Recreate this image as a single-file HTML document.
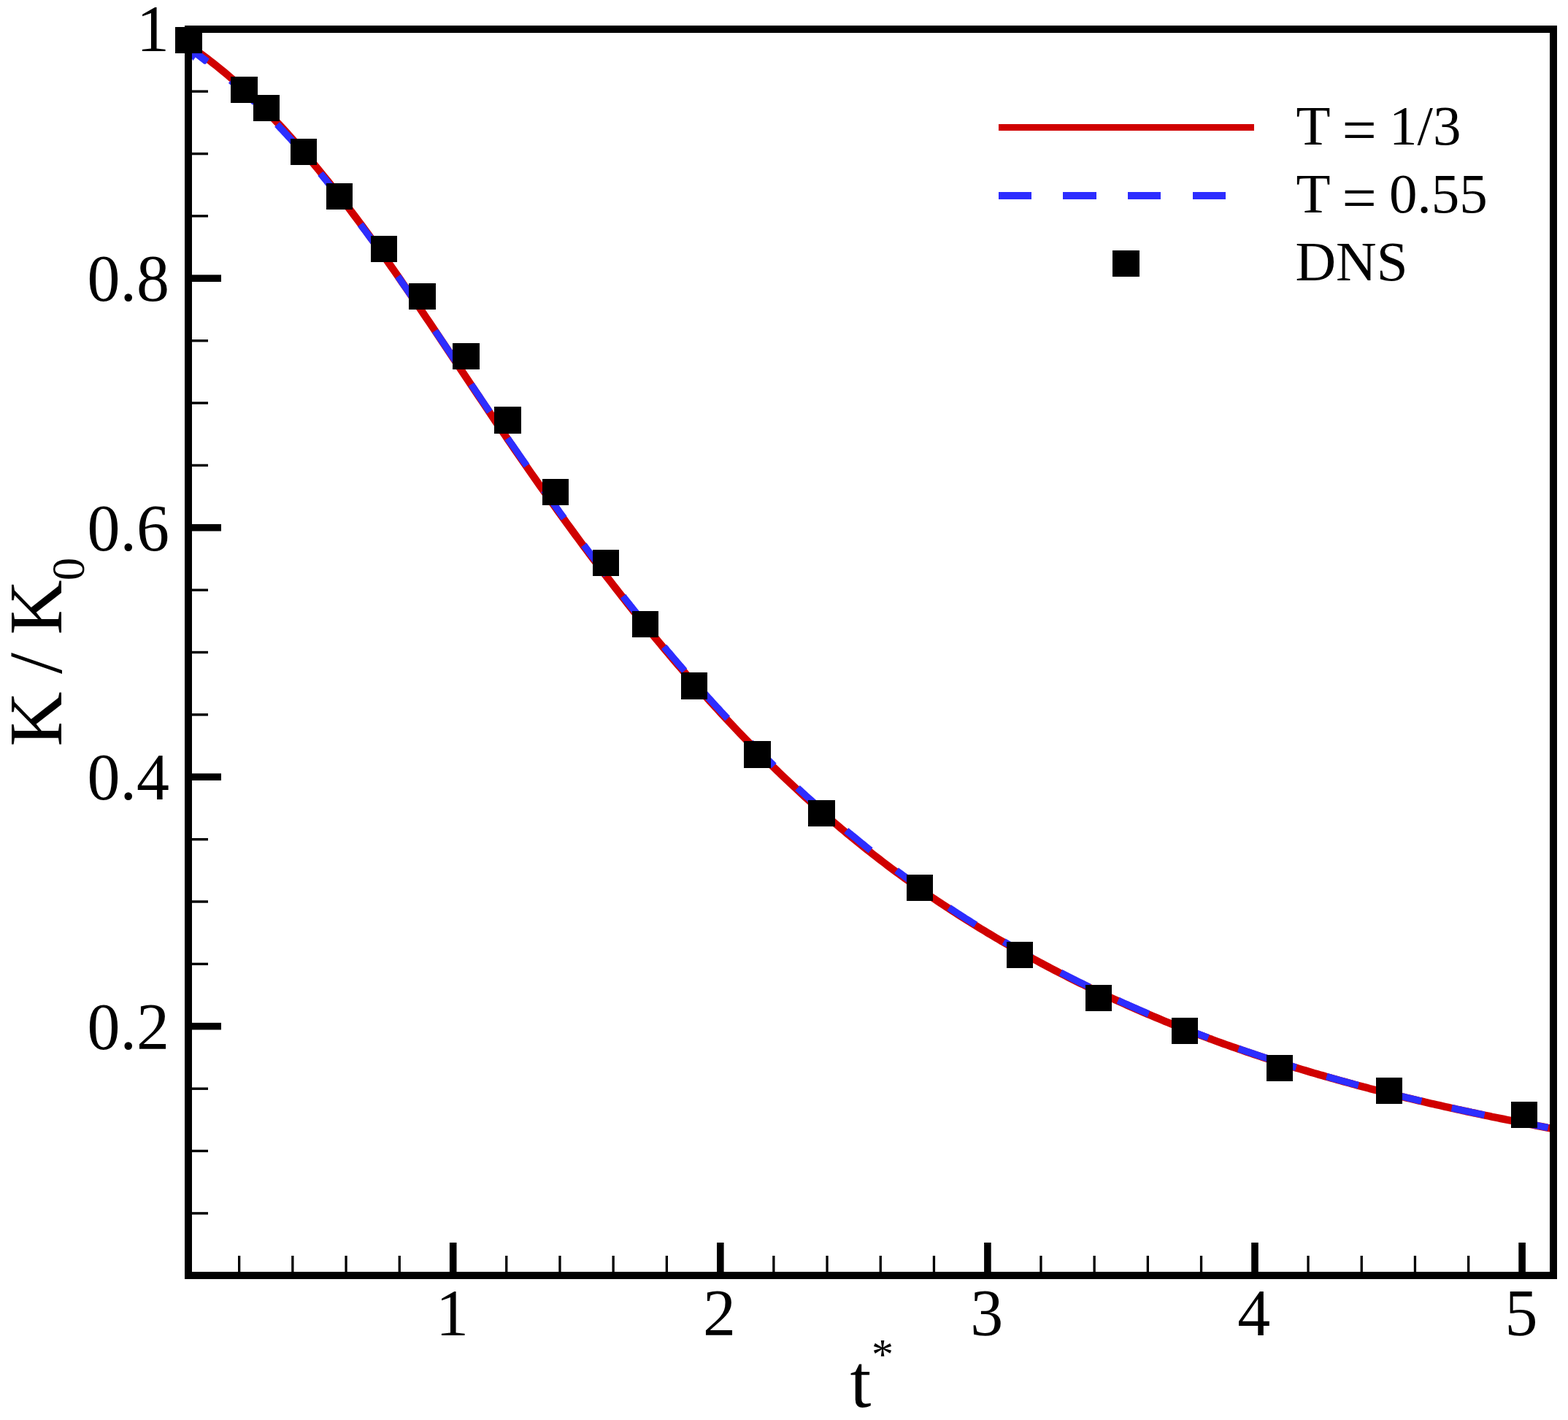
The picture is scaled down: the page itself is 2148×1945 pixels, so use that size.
<!DOCTYPE html>
<html lang="en"><head><meta charset="utf-8"><title>K / K0 versus t*</title>
<style>
html,body{margin:0;padding:0;background:#fff;}
body{width:2148px;height:1945px;overflow:hidden;}
svg{display:block;}
text{font-family:"Liberation Serif","DejaVu Serif",serif;fill:#000;}
.tk{font-size:90px;}
.lg{font-size:77px;}
.ti{font-size:102px;}
.ss{font-size:60px;}
.eq{font-size:84px;}
</style></head><body>
<svg width="2148" height="1945" viewBox="0 0 2148 1945">
<rect x="0" y="0" width="2148" height="1945" fill="#fff"/>

<defs><clipPath id="cp"><rect x="258" y="40" width="1870" height="1707"/></clipPath></defs>
<g clip-path="url(#cp)" fill="none" stroke-linecap="butt" stroke-linejoin="round">
<polyline stroke="#d00000" stroke-width="10.3" points="256.0,60.6 260.0,63.3 264.0,66.0 268.0,68.8 272.0,71.6 276.0,74.5 280.0,77.4 284.0,80.4 288.0,83.5 292.0,86.6 296.0,89.7 300.0,92.9 304.0,96.2 308.0,99.5 312.0,102.9 316.0,106.3 320.0,109.7 324.0,113.3 328.0,116.8 332.0,120.5 336.0,124.2 340.0,127.9 344.0,131.7 348.0,135.5 352.0,139.4 356.0,143.3 360.0,147.3 364.0,151.4 368.0,155.5 372.0,159.6 376.0,163.8 380.0,168.0 384.0,172.3 388.0,176.6 392.0,181.0 396.0,185.4 400.0,189.9 404.0,194.4 408.0,199.0 412.0,203.6 416.0,208.2 420.0,212.9 424.0,217.6 428.0,222.4 432.0,227.2 436.0,232.0 440.0,236.9 444.0,241.9 448.0,246.8 452.0,251.8 456.0,256.9 460.0,262.0 464.0,267.1 468.0,272.3 472.0,277.5 476.0,282.7 480.0,288.0 484.0,293.3 488.0,298.6 492.0,304.0 496.0,309.4 500.0,314.8 504.0,320.3 508.0,325.8 512.0,331.3 516.0,336.9 520.0,342.5 524.0,348.1 528.0,353.8 532.0,359.5 536.0,365.2 540.0,370.9 544.0,376.7 548.0,382.5 552.0,388.3 556.0,394.1 560.0,399.9 564.0,405.8 568.0,411.6 572.0,417.5 576.0,423.4 580.0,429.4 584.0,435.3 588.0,441.2 592.0,447.2 596.0,453.1 600.0,459.1 604.0,465.1 608.0,471.1 612.0,477.1 616.0,483.1 620.0,489.1 624.0,495.1 628.0,501.1 632.0,507.1 636.0,513.1 640.0,519.1 644.0,525.1 648.0,531.1 652.0,537.1 656.0,543.0 660.0,549.0 664.0,555.0 668.0,560.9 672.0,566.9 676.0,572.8 680.0,578.8 684.0,584.7 688.0,590.6 692.0,596.4 696.0,602.3 700.0,608.2 704.0,614.0 708.0,619.8 712.0,625.6 716.0,631.4 720.0,637.1 724.0,642.9 728.0,648.6 732.0,654.3 736.0,660.0 740.0,665.7 744.0,671.4 748.0,677.0 752.0,682.6 756.0,688.2 760.0,693.8 764.0,699.4 768.0,704.9 772.0,710.4 776.0,716.0 780.0,721.4 784.0,726.9 788.0,732.4 792.0,737.8 796.0,743.2 800.0,748.6 804.0,754.0 808.0,759.3 812.0,764.7 816.0,770.0 820.0,775.3 824.0,780.5 828.0,785.8 832.0,791.0 836.0,796.2 840.0,801.4 844.0,806.5 848.0,811.7 852.0,816.8 856.0,821.9 860.0,827.0 864.0,832.0 868.0,837.1 872.0,842.1 876.0,847.1 880.0,852.0 884.0,857.0 888.0,861.9 892.0,866.8 896.0,871.6 900.0,876.5 904.0,881.3 908.0,886.1 912.0,890.9 916.0,895.6 920.0,900.4 924.0,905.1 928.0,909.8 932.0,914.4 936.0,919.0 940.0,923.7 944.0,928.2 948.0,932.8 952.0,937.4 956.0,941.9 960.0,946.4 964.0,950.8 968.0,955.3 972.0,959.7 976.0,964.1 980.0,968.5 984.0,972.8 988.0,977.2 992.0,981.5 996.0,985.8 1000.0,990.0 1004.0,994.3 1008.0,998.5 1012.0,1002.7 1016.0,1006.8 1020.0,1011.0 1024.0,1015.1 1028.0,1019.2 1032.0,1023.3 1036.0,1027.3 1040.0,1031.3 1044.0,1035.3 1048.0,1039.3 1052.0,1043.3 1056.0,1047.2 1060.0,1051.1 1064.0,1055.0 1068.0,1058.9 1072.0,1062.7 1076.0,1066.5 1080.0,1070.3 1084.0,1074.1 1088.0,1077.8 1092.0,1081.5 1096.0,1085.2 1100.0,1088.9 1104.0,1092.6 1108.0,1096.2 1112.0,1099.8 1116.0,1103.4 1120.0,1106.9 1124.0,1110.5 1128.0,1114.0 1132.0,1117.5 1136.0,1121.0 1140.0,1124.4 1144.0,1127.8 1148.0,1131.2 1152.0,1134.6 1156.0,1137.9 1160.0,1141.3 1164.0,1144.6 1168.0,1147.9 1172.0,1151.1 1176.0,1154.4 1180.0,1157.6 1184.0,1160.8 1188.0,1163.9 1192.0,1167.1 1196.0,1170.2 1200.0,1173.3 1204.0,1176.4 1208.0,1179.5 1212.0,1182.5 1216.0,1185.6 1220.0,1188.6 1224.0,1191.6 1228.0,1194.5 1232.0,1197.5 1236.0,1200.4 1240.0,1203.3 1244.0,1206.2 1248.0,1209.0 1252.0,1211.9 1256.0,1214.7 1260.0,1217.5 1264.0,1220.3 1268.0,1223.1 1272.0,1225.8 1276.0,1228.6 1280.0,1231.3 1284.0,1234.0 1288.0,1236.6 1292.0,1239.3 1296.0,1241.9 1300.0,1244.6 1304.0,1247.2 1308.0,1249.8 1312.0,1252.3 1316.0,1254.9 1320.0,1257.4 1324.0,1260.0 1328.0,1262.5 1332.0,1265.0 1336.0,1267.4 1340.0,1269.9 1344.0,1272.3 1348.0,1274.7 1352.0,1277.2 1356.0,1279.5 1360.0,1281.9 1364.0,1284.3 1368.0,1286.6 1372.0,1289.0 1376.0,1291.3 1380.0,1293.6 1384.0,1295.9 1388.0,1298.2 1392.0,1300.4 1396.0,1302.7 1400.0,1304.9 1404.0,1307.1 1408.0,1309.3 1412.0,1311.5 1416.0,1313.7 1420.0,1315.8 1424.0,1318.0 1428.0,1320.1 1432.0,1322.3 1436.0,1324.4 1440.0,1326.5 1444.0,1328.6 1448.0,1330.6 1452.0,1332.7 1456.0,1334.7 1460.0,1336.8 1464.0,1338.8 1468.0,1340.8 1472.0,1342.8 1476.0,1344.8 1480.0,1346.8 1484.0,1348.7 1488.0,1350.7 1492.0,1352.6 1496.0,1354.5 1500.0,1356.4 1504.0,1358.3 1508.0,1360.2 1512.0,1362.1 1516.0,1364.0 1520.0,1365.8 1524.0,1367.7 1528.0,1369.5 1532.0,1371.3 1536.0,1373.1 1540.0,1374.9 1544.0,1376.7 1548.0,1378.5 1552.0,1380.2 1556.0,1382.0 1560.0,1383.7 1564.0,1385.5 1568.0,1387.2 1572.0,1388.9 1576.0,1390.6 1580.0,1392.3 1584.0,1393.9 1588.0,1395.6 1592.0,1397.2 1596.0,1398.9 1600.0,1400.5 1604.0,1402.1 1608.0,1403.7 1612.0,1405.3 1616.0,1406.9 1620.0,1408.5 1624.0,1410.1 1628.0,1411.6 1632.0,1413.2 1636.0,1414.7 1640.0,1416.2 1644.0,1417.8 1648.0,1419.3 1652.0,1420.8 1656.0,1422.3 1660.0,1423.7 1664.0,1425.2 1668.0,1426.7 1672.0,1428.1 1676.0,1429.6 1680.0,1431.0 1684.0,1432.4 1688.0,1433.8 1692.0,1435.2 1696.0,1436.6 1700.0,1438.0 1704.0,1439.4 1708.0,1440.8 1712.0,1442.1 1716.0,1443.5 1720.0,1444.8 1724.0,1446.1 1728.0,1447.5 1732.0,1448.8 1736.0,1450.1 1740.0,1451.4 1744.0,1452.7 1748.0,1453.9 1752.0,1455.2 1756.0,1456.5 1760.0,1457.7 1764.0,1459.0 1768.0,1460.2 1772.0,1461.5 1776.0,1462.7 1780.0,1463.9 1784.0,1465.1 1788.0,1466.3 1792.0,1467.5 1796.0,1468.7 1800.0,1469.9 1804.0,1471.0 1808.0,1472.2 1812.0,1473.3 1816.0,1474.5 1820.0,1475.6 1824.0,1476.8 1828.0,1477.9 1832.0,1479.0 1836.0,1480.1 1840.0,1481.2 1844.0,1482.3 1848.0,1483.4 1852.0,1484.5 1856.0,1485.6 1860.0,1486.7 1864.0,1487.7 1868.0,1488.8 1872.0,1489.8 1876.0,1490.9 1880.0,1491.9 1884.0,1492.9 1888.0,1494.0 1892.0,1495.0 1896.0,1496.0 1900.0,1497.0 1904.0,1498.0 1908.0,1499.0 1912.0,1500.0 1916.0,1501.0 1920.0,1501.9 1924.0,1502.9 1928.0,1503.9 1932.0,1504.8 1936.0,1505.8 1940.0,1506.7 1944.0,1507.7 1948.0,1508.6 1952.0,1509.6 1956.0,1510.5 1960.0,1511.4 1964.0,1512.3 1968.0,1513.2 1972.0,1514.1 1976.0,1515.0 1980.0,1515.9 1984.0,1516.8 1988.0,1517.7 1992.0,1518.6 1996.0,1519.5 2000.0,1520.3 2004.0,1521.2 2008.0,1522.1 2012.0,1522.9 2016.0,1523.8 2020.0,1524.6 2024.0,1525.5 2028.0,1526.3 2032.0,1527.2 2036.0,1528.0 2040.0,1528.8 2044.0,1529.7 2048.0,1530.5 2052.0,1531.3 2056.0,1532.1 2060.0,1532.9 2064.0,1533.7 2068.0,1534.5 2072.0,1535.3 2076.0,1536.1 2080.0,1536.9 2084.0,1537.7 2088.0,1538.5 2092.0,1539.3 2096.0,1540.0 2100.0,1540.8 2104.0,1541.6 2108.0,1542.4 2112.0,1543.1 2116.0,1543.9 2120.0,1544.7 2124.0,1545.4 2128.0,1546.2 2132.0,1546.9"/>
<polygon fill="#2d2dff" stroke="none" points="258,66 277,66 277,72.9 286.7,80.6 282,87.7 279.6,87.7 267.7,78.6 264.5,82.9 262.9,80.6 258,80.6"/>
<g stroke="#2d2dff" stroke-width="9.5">
<polyline points="316.1,110.2 318.0,111.9 320.0,113.6 321.9,115.3 323.9,117.0 325.8,118.7 327.8,120.4 329.7,122.1 331.7,123.9 333.6,125.7 335.6,127.4 337.5,129.2 339.5,131.0 341.4,132.8 343.4,134.7 345.4,136.5 347.3,138.3 349.3,140.2"/>
<polyline points="379.5,170.5 381.5,172.5 383.4,174.6 385.4,176.7 387.4,178.8 389.3,180.9 391.3,183.0 393.3,185.1 395.2,187.3 397.2,189.4 399.2,191.6 401.1,193.8 403.1,196.0 405.0,198.1 407.0,200.4 409.0,202.6 410.9,204.8 412.9,207.0 414.9,209.3 416.8,211.5"/>
<polyline points="439.0,237.7 441.0,240.1 442.9,242.5 444.9,244.9 446.9,247.3 448.8,249.7 450.8,252.1 452.7,254.5 454.7,256.9 456.7,259.4 458.6,261.8 460.6,264.3 462.5,266.8 464.5,269.3 466.5,271.7 468.4,274.2 470.4,276.8 472.3,279.3"/>
<polyline points="493.8,307.4 495.8,310.1 497.8,312.8 499.8,315.5 501.8,318.2 503.8,320.9 505.8,323.6 507.8,326.3 509.8,329.0 511.8,331.8 513.8,334.5 515.8,337.3 517.8,340.0 519.8,342.8 521.7,345.6 523.7,348.4 525.7,351.2"/>
<polyline points="545.1,378.7 547.1,381.4 549.0,384.2 550.9,387.0 552.8,389.7 554.7,392.5 556.7,395.3 558.6,398.1 560.5,400.9 562.4,403.7 564.4,406.5 566.3,409.3 568.2,412.1 570.1,414.9 572.1,417.7 574.0,420.5"/>
<polyline points="596.1,453.1 598.1,456.1 600.1,459.0 602.1,462.0 604.1,465.0 606.2,468.0 608.2,471.0 610.2,474.0 612.2,477.0 614.2,479.9 616.2,482.9 618.2,485.9 620.2,488.9 622.2,491.9 624.2,494.9 626.3,497.9"/>
<polyline points="645.5,526.5 647.4,529.4 649.4,532.3 651.3,535.2 653.3,538.1 655.2,541.0 657.2,543.9 659.1,546.8 661.0,549.6 663.0,552.5 664.9,555.4 666.9,558.3 668.8,561.2 670.8,564.1"/>
<polyline points="695.4,600.3 697.4,603.3 699.4,606.2 701.5,609.1 703.5,612.0 705.5,614.9 707.5,617.8 709.5,620.7 711.5,623.6 713.5,626.5 715.5,629.4 717.5,632.3 719.5,635.1 721.5,638.0"/>
<polyline points="745.2,671.6 747.1,674.3 749.1,677.1 751.1,679.8 753.0,682.6 755.0,685.3 757.0,688.0 758.9,690.8 760.9,693.5 762.8,696.2 764.8,698.9 766.8,701.7 768.7,704.4 770.7,707.1 772.7,709.8"/>
<polyline points="799.7,746.5 801.7,749.1 803.6,751.7 805.6,754.3 807.5,756.9 809.5,759.5 811.4,762.1 813.4,764.7 815.3,767.3 817.3,769.8 819.2,772.4 821.2,775.0 823.1,777.5 825.1,780.1 827.0,782.6 829.0,785.2 830.9,787.7"/>
<polyline points="853.5,816.7 855.4,819.2 857.4,821.7 859.4,824.2 861.4,826.7 863.3,829.2 865.3,831.6 867.3,834.1 869.3,836.6 871.2,839.0 873.2,841.5 875.2,843.9 877.1,846.4 879.1,848.8 881.1,851.3 883.1,853.7 885.0,856.1"/>
<polyline points="909.6,885.8 911.5,888.0 913.3,890.3 915.2,892.5 917.1,894.7 919.0,896.9 920.8,899.1 922.7,901.3 924.6,903.5 926.5,905.7 928.3,907.9 930.2,910.1 932.1,912.3 934.0,914.4 935.8,916.6 937.7,918.8"/>
<polyline points="964.1,948.7 966.0,950.8 968.0,953.0 969.9,955.1 971.8,957.2 973.7,959.3 975.6,961.4 977.5,963.5 979.4,965.6 981.4,967.7 983.3,969.7 985.2,971.8 987.1,973.9 989.0,975.9 990.9,978.0 992.8,980.0 994.7,982.1 996.7,984.1"/>
<polyline points="1028.2,1017.0 1030.2,1019.0 1032.2,1021.0 1034.2,1023.0 1036.3,1025.1 1038.3,1027.1 1040.3,1029.1 1042.3,1031.1 1044.3,1033.1 1046.3,1035.0 1048.3,1037.0 1050.3,1039.0 1052.3,1041.0 1054.3,1042.9 1056.3,1044.9 1058.3,1046.8 1060.3,1048.8"/>
<polyline points="1092.5,1079.2 1094.5,1081.1 1096.5,1082.9 1098.5,1084.7 1100.5,1086.5 1102.5,1088.4 1104.5,1090.2 1106.5,1092.0 1108.5,1093.8 1110.5,1095.6 1112.5,1097.4 1114.5,1099.1 1116.5,1100.9 1118.5,1102.7 1120.5,1104.5 1122.5,1106.2 1124.4,1108.0 1126.4,1109.7"/>
<polyline points="1159.3,1137.6 1161.3,1139.3 1163.2,1140.9 1165.2,1142.5 1167.2,1144.1 1169.2,1145.7 1171.1,1147.3 1173.1,1148.9 1175.1,1150.6 1177.0,1152.2 1179.0,1153.8 1180.9,1155.4 1182.9,1156.9 1184.8,1158.5 1186.8,1160.1 1188.7,1161.7 1190.7,1163.3 1192.7,1164.8"/>
<polyline points="1228.1,1192.3 1230.0,1193.7 1232.0,1195.2 1233.9,1196.6 1235.8,1198.0 1237.8,1199.5 1239.7,1200.9 1241.6,1202.3 1243.6,1203.7 1245.5,1205.1 1247.4,1206.6 1249.4,1208.0 1251.3,1209.4 1253.2,1210.7 1255.2,1212.1 1257.1,1213.5 1259.0,1214.9 1260.9,1216.3 1262.9,1217.7"/>
<polyline points="1300.1,1243.2 1302.0,1244.5 1303.9,1245.7 1305.8,1247.0 1307.7,1248.3 1309.6,1249.5 1311.5,1250.8 1313.5,1252.0 1315.4,1253.3 1317.3,1254.5 1319.2,1255.7 1321.1,1257.0 1323.0,1258.2 1325.0,1259.4 1326.9,1260.6 1328.8,1261.8 1330.7,1263.0 1332.7,1264.2 1334.6,1265.4 1336.5,1266.6"/>
<polyline points="1375.1,1289.7 1377.0,1290.8 1378.9,1291.9 1380.8,1293.0 1382.7,1294.1 1384.7,1295.2 1386.6,1296.3 1388.5,1297.4 1390.4,1298.5 1392.3,1299.6 1394.2,1300.6 1396.2,1301.7 1398.1,1302.8 1400.0,1303.9 1401.9,1304.9 1403.8,1306.0 1405.7,1307.1 1407.7,1308.1 1409.6,1309.2 1411.5,1310.2 1413.4,1311.3"/>
<polyline points="1453.0,1332.3 1454.9,1333.3 1456.9,1334.3 1458.9,1335.3 1460.8,1336.3 1462.8,1337.3 1464.8,1338.3 1466.8,1339.3 1468.7,1340.3 1470.7,1341.3 1472.7,1342.2 1474.6,1343.2 1476.6,1344.2 1478.6,1345.2 1480.5,1346.1 1482.5,1347.1 1484.5,1348.1 1486.4,1349.0 1488.4,1350.0 1490.4,1351.0 1492.3,1351.9"/>
<polyline points="1531.6,1370.3 1533.6,1371.2 1535.6,1372.2 1537.6,1373.1 1539.6,1374.0 1541.6,1374.9 1543.6,1375.7 1545.6,1376.6 1547.6,1377.5 1549.6,1378.4 1551.6,1379.3 1553.6,1380.2 1555.6,1381.0 1557.6,1381.9 1559.6,1382.8 1561.6,1383.7 1563.6,1384.5 1565.6,1385.4 1567.6,1386.2 1569.6,1387.1 1571.6,1388.0 1573.6,1388.8"/>
<polyline points="1614.2,1405.6 1616.2,1406.3 1618.1,1407.1 1620.1,1407.9 1622.0,1408.7 1624.0,1409.4 1625.9,1410.2 1627.9,1410.9 1629.8,1411.7 1631.8,1412.5 1633.7,1413.2 1635.7,1414.0 1637.6,1414.7 1639.6,1415.5 1641.5,1416.2 1643.5,1417.0 1645.4,1417.7 1647.4,1418.4 1649.3,1419.2 1651.3,1419.9 1653.2,1420.6 1655.2,1421.4"/>
<polyline points="1696.7,1436.3 1698.6,1437.0 1700.6,1437.7 1702.6,1438.4 1704.6,1439.1 1706.5,1439.7 1708.5,1440.4 1710.5,1441.1 1712.5,1441.8 1714.4,1442.4 1716.4,1443.1 1718.4,1443.8 1720.3,1444.4 1722.3,1445.1 1724.3,1445.7 1726.3,1446.4 1728.2,1447.1 1730.2,1447.7 1732.2,1448.4 1734.2,1449.0 1736.1,1449.7 1738.1,1450.3 1740.1,1450.9 1742.1,1451.6 1744.0,1452.2 1746.0,1452.9 1748.0,1453.5 1750.0,1454.1 1751.9,1454.8 1753.9,1455.4 1755.9,1456.0 1757.8,1456.6 1759.8,1457.3 1761.8,1457.9 1763.8,1458.5 1765.7,1459.1 1767.7,1459.7 1769.7,1460.3 1771.7,1460.9 1773.6,1461.6 1775.6,1462.2"/>
<polyline points="1817.3,1474.5 1819.3,1475.1 1821.3,1475.7 1823.2,1476.2 1825.2,1476.8 1827.2,1477.3 1829.2,1477.9 1831.2,1478.5 1833.1,1479.0 1835.1,1479.6 1837.1,1480.1 1839.1,1480.7 1841.1,1481.2 1843.0,1481.8 1845.0,1482.3 1847.0,1482.8 1849.0,1483.4 1851.0,1483.9 1852.9,1484.5 1854.9,1485.0 1856.9,1485.5 1858.9,1486.1 1860.9,1486.6"/>
<polyline points="1903.1,1497.5 1905.0,1498.0 1906.9,1498.4 1908.8,1498.9 1910.8,1499.4 1912.7,1499.9 1914.6,1500.3 1916.5,1500.8 1918.5,1501.3 1920.4,1501.8 1922.3,1502.2 1924.3,1502.7 1926.2,1503.2 1928.1,1503.6 1930.0,1504.1 1932.0,1504.6 1933.9,1505.0 1935.8,1505.5 1937.7,1505.9 1939.7,1506.4 1941.6,1506.8 1943.5,1507.3 1945.4,1507.7 1947.4,1508.2"/>
<polyline points="1988.7,1517.6 1990.6,1518.0 1992.6,1518.5 1994.5,1518.9 1996.5,1519.3 1998.4,1519.8 2000.4,1520.2 2002.3,1520.6 2004.3,1521.0 2006.3,1521.5 2008.2,1521.9 2010.2,1522.3 2012.1,1522.7 2014.1,1523.1 2016.0,1523.6 2018.0,1524.0 2020.0,1524.4 2021.9,1524.8 2023.9,1525.2 2025.8,1525.6 2027.8,1526.0 2029.7,1526.5 2031.7,1526.9 2033.6,1527.3"/>
<polyline points="2077.0,1536.1 2079.0,1536.5 2081.0,1536.9 2083.0,1537.3 2085.0,1537.7 2087.0,1538.1 2089.0,1538.5 2090.9,1538.8 2092.9,1539.2 2094.9,1539.6 2096.9,1540.0 2098.9,1540.4 2100.9,1540.8 2102.9,1541.2 2104.8,1541.5 2106.8,1541.9 2108.8,1542.3 2110.8,1542.7 2112.8,1543.1 2114.8,1543.5 2116.8,1543.8 2118.8,1544.2 2120.7,1544.6"/>
</g></g>
<g fill="#000" shape-rendering="crispEdges">
<rect x="240" y="37" width="37" height="36"/>
<rect x="316" y="105" width="37" height="36"/>
<rect x="347" y="130" width="36" height="36"/>
<rect x="398" y="190" width="36" height="36"/>
<rect x="447" y="251" width="36" height="36"/>
<rect x="508" y="323" width="36" height="36"/>
<rect x="560" y="388" width="37" height="36"/>
<rect x="620" y="470" width="37" height="36"/>
<rect x="677" y="557" width="37" height="37"/>
<rect x="743" y="656" width="36" height="36"/>
<rect x="812" y="753" width="36" height="36"/>
<rect x="866" y="837" width="36" height="36"/>
<rect x="933" y="921" width="36" height="37"/>
<rect x="1019" y="1015" width="37" height="37"/>
<rect x="1107" y="1096" width="37" height="36"/>
<rect x="1242" y="1198" width="36" height="36"/>
<rect x="1379" y="1290" width="36" height="36"/>
<rect x="1487" y="1349" width="36" height="36"/>
<rect x="1605" y="1394" width="36" height="36"/>
<rect x="1735" y="1445" width="36" height="36"/>
<rect x="1885" y="1476" width="36" height="36"/>
<rect x="2070" y="1509" width="36" height="36"/>
</g>
<g fill="#000" shape-rendering="crispEdges">
<rect x="253" y="35" width="1880" height="10"/>
<rect x="253" y="1742" width="1880" height="10"/>
<rect x="253" y="35" width="10" height="1717"/>
<rect x="2123" y="35" width="10" height="1717"/>
</g>
<g fill="#000">
<rect x="258" y="1660.2" width="27" height="3.4"/>
<rect x="258" y="1574.8" width="27" height="3.4"/>
<rect x="258" y="1489.5" width="27" height="3.4"/>
<rect x="258" y="1400.9" width="45" height="9.6"/>
<rect x="258" y="1318.7" width="27" height="3.4"/>
<rect x="258" y="1233.3" width="27" height="3.4"/>
<rect x="258" y="1148.0" width="27" height="3.4"/>
<rect x="258" y="1059.4" width="45" height="9.6"/>
<rect x="258" y="977.2" width="27" height="3.4"/>
<rect x="258" y="891.8" width="27" height="3.4"/>
<rect x="258" y="806.5" width="27" height="3.4"/>
<rect x="258" y="717.9" width="45" height="9.6"/>
<rect x="258" y="635.7" width="27" height="3.4"/>
<rect x="258" y="550.3" width="27" height="3.4"/>
<rect x="258" y="465.0" width="27" height="3.4"/>
<rect x="258" y="376.4" width="45" height="9.6"/>
<rect x="258" y="294.2" width="27" height="3.4"/>
<rect x="258" y="208.9" width="27" height="3.4"/>
<rect x="258" y="123.5" width="27" height="3.4"/>
<rect x="326.0" y="1720" width="3.3" height="27"/>
<rect x="399.2" y="1720" width="3.3" height="27"/>
<rect x="472.4" y="1720" width="3.3" height="27"/>
<rect x="545.6" y="1720" width="3.3" height="27"/>
<rect x="615.9" y="1702" width="9.6" height="45"/>
<rect x="692.1" y="1720" width="3.3" height="27"/>
<rect x="765.3" y="1720" width="3.3" height="27"/>
<rect x="838.5" y="1720" width="3.3" height="27"/>
<rect x="911.7" y="1720" width="3.3" height="27"/>
<rect x="982.0" y="1702" width="9.6" height="45"/>
<rect x="1058.2" y="1720" width="3.3" height="27"/>
<rect x="1131.4" y="1720" width="3.3" height="27"/>
<rect x="1204.6" y="1720" width="3.3" height="27"/>
<rect x="1277.8" y="1720" width="3.3" height="27"/>
<rect x="1348.1" y="1702" width="9.6" height="45"/>
<rect x="1424.3" y="1720" width="3.3" height="27"/>
<rect x="1497.5" y="1720" width="3.3" height="27"/>
<rect x="1570.7" y="1720" width="3.3" height="27"/>
<rect x="1643.9" y="1720" width="3.3" height="27"/>
<rect x="1714.2" y="1702" width="9.6" height="45"/>
<rect x="1790.4" y="1720" width="3.3" height="27"/>
<rect x="1863.6" y="1720" width="3.3" height="27"/>
<rect x="1936.8" y="1720" width="3.3" height="27"/>
<rect x="2010.0" y="1720" width="3.3" height="27"/>
<rect x="2080.3" y="1702" width="9.6" height="45"/>
</g>
<g class="tk" text-anchor="end">
<text x="232" y="69.5">1</text>
<text x="232" y="412.0">0.8</text>
<text x="232" y="753.5">0.6</text>
<text x="232" y="1095.0">0.4</text>
<text x="232" y="1436.5">0.2</text>
</g>
<g class="tk" text-anchor="middle">
<text x="619.5" y="1829">1</text>
<text x="985.6" y="1829">2</text>
<text x="1351.7" y="1829">3</text>
<text x="1717.8" y="1829">4</text>
<text x="2083.9" y="1829">5</text>
</g>
<text class="ti" x="1164.5" y="1927" style="font-size:104px">t<tspan class="ss" dx="0.5" dy="-52">*</tspan></text>
<text class="ti" transform="translate(84,1022.5) rotate(-90)" style="font-size:104px;letter-spacing:-0.75px">K / K<tspan class="ss" style="font-size:63px" dy="30.5">0</tspan></text>
<g shape-rendering="crispEdges"><rect x="1368" y="170" width="350" height="9" fill="#d00000"/>
<rect x="1368" y="263" width="45" height="10" fill="#2d2dff"/>
<rect x="1456" y="263" width="46" height="10" fill="#2d2dff"/>
<rect x="1545" y="263" width="45" height="10" fill="#2d2dff"/>
<rect x="1634" y="263" width="45" height="10" fill="#2d2dff"/>
<rect x="1524" y="343" width="37" height="36" fill="#000"/></g>
<g class="lg"><text x="1775.5" y="198">T <tspan class="eq" dx="-2" dy="8.5">=</tspan><tspan dx="-2" dy="-8.5"> </tspan>1/3</text><text x="1775.5" y="291">T <tspan class="eq" dx="-2" dy="8.5">=</tspan><tspan dx="-2" dy="-8.5"> </tspan>0.55</text><text x="1774.5" y="384">DNS</text></g>
</svg></body></html>
